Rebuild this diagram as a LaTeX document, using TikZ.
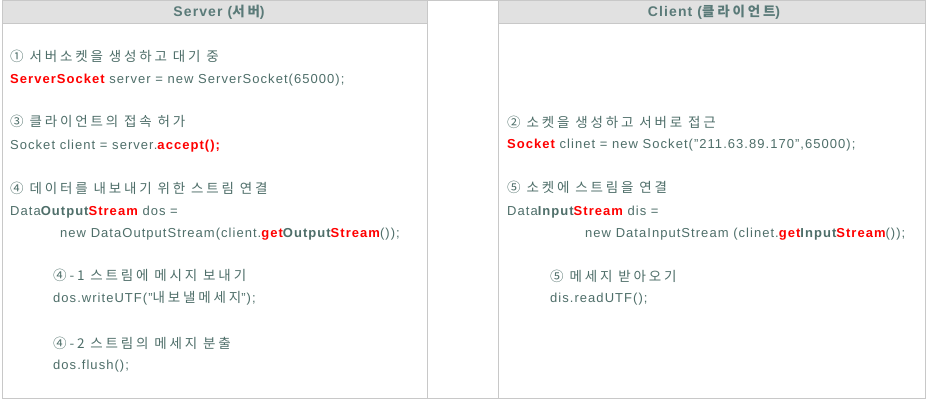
\documentclass[tikz,border=0pt]{standalone}
\usepackage{fontspec}
\setmainfont{Liberation Sans}[LetterSpace=8]
\newfontfamily\kfont{Noto Sans CJK KR}[LetterSpace=21]
\definecolor{fg}{HTML}{4E6E69}
\definecolor{hdrtxt}{HTML}{5A7A78}
\definecolor{hdrbg}{HTML}{E1E1E1}
\definecolor{rule}{HTML}{C8C8C8}
\definecolor{hot}{HTML}{FF0000}
\newcommand\hlr[1]{\textcolor{hot}{\bfseries #1}}
\newcommand\hlb[1]{{\bfseries #1}}
\newcommand\ko[1]{{\kfont\fontsize{13.5}{15}\selectfont #1}}
\tikzset{
  txt/.style={anchor=base west, inner sep=0pt, text=fg, font=\fontsize{13}{15}\selectfont},
  kor/.style={anchor=base west, inner sep=0pt, text=fg, font=\kfont\fontsize{13.5}{15}\selectfont},
  hdr/.style={anchor=center, inner sep=0pt, text=hdrtxt, font=\bfseries\fontsize{14}{16}\selectfont},
  frame/.style={draw=rule, line width=1pt}
}
\begin{document}
\begin{tikzpicture}[x=1pt,y=-1pt]
\useasboundingbox (0,0) rectangle (926,401);
\fill[white] (0,0) rectangle (926,401);
\fill[hdrbg] (2,0) rectangle (427,23);
\fill[hdrbg] (498,0) rectangle (925,23);
\draw[frame] (2.5,0.5) rectangle (925.5,398.5);
\draw[frame] (427.5,0) -- (427.5,398);
\draw[frame] (498.5,0) -- (498.5,398);
\draw[frame] (2,23.5) -- (427,23.5);
\draw[frame] (498,23.5) -- (925,23.5);
% headers
\node[hdr] (hs) at (219,12) {Server (\ko{서버})};
\node[hdr] (hc) at (714,12) {Client (\ko{클라이언트})};
% server column
\node[kor] (s1) at (10,61.5) {① 서버소켓을 생성하고 대기 중};
\node[txt] (s2) at (10,83.5) {\hlr{ServerSocket} server = new ServerSocket(65000);};
\node[kor] (s3) at (10,126.5) {③ 클라이언트의 접속 허가};
\node[txt] (s4) at (10,149.5) {Socket client = server.\hlr{accept();}};
\node[kor] (s5) at (10,193.5) {④ 데이터를 내보내기 위한 스트림 연결};
\node[txt] (s6) at (10,215.5) {Data\hlb{Output}\hlr{Stream} dos =};
\node[txt] (s7) at (60,237.5) {new DataOutputStream(client.\hlr{get}\hlb{Output}\hlr{Stream}());};
\node[kor] (s8) at (53,280.5) {④-1 스트림에 메시지 보내기};
\node[txt] (s9) at (53,302.5) {dos.writeUTF("\ko{내보낼메세지}");};
\node[kor] (s10) at (53,348.5) {④-2 스트림의 메세지 분출};
\node[txt] (s11) at (53,369.5) {dos.flush();};
% client column
\node[kor] (c1) at (507,127.5) {② 소켓을 생성하고 서버로 접근};
\node[txt] (c2) at (507,148.5) {\hlr{Socket} clinet = new Socket("211.63.89.170",65000);};
\node[kor] (c3) at (507,192.5) {⑤ 소켓에 스트림을 연결};
\node[txt] (c4) at (507,215.5) {Data\hlb{Input}\hlr{Stream} dis =};
\node[txt] (c5) at (585,237.5) {new DataInputStream (clinet.\hlr{get}\hlb{Input}\hlr{Stream}());};
\node[kor] (c6) at (550,281.5) {⑤ 메세지 받아오기};
\node[txt] (c7) at (550,302.5) {dis.readUTF();};
\end{tikzpicture}
\end{document}
